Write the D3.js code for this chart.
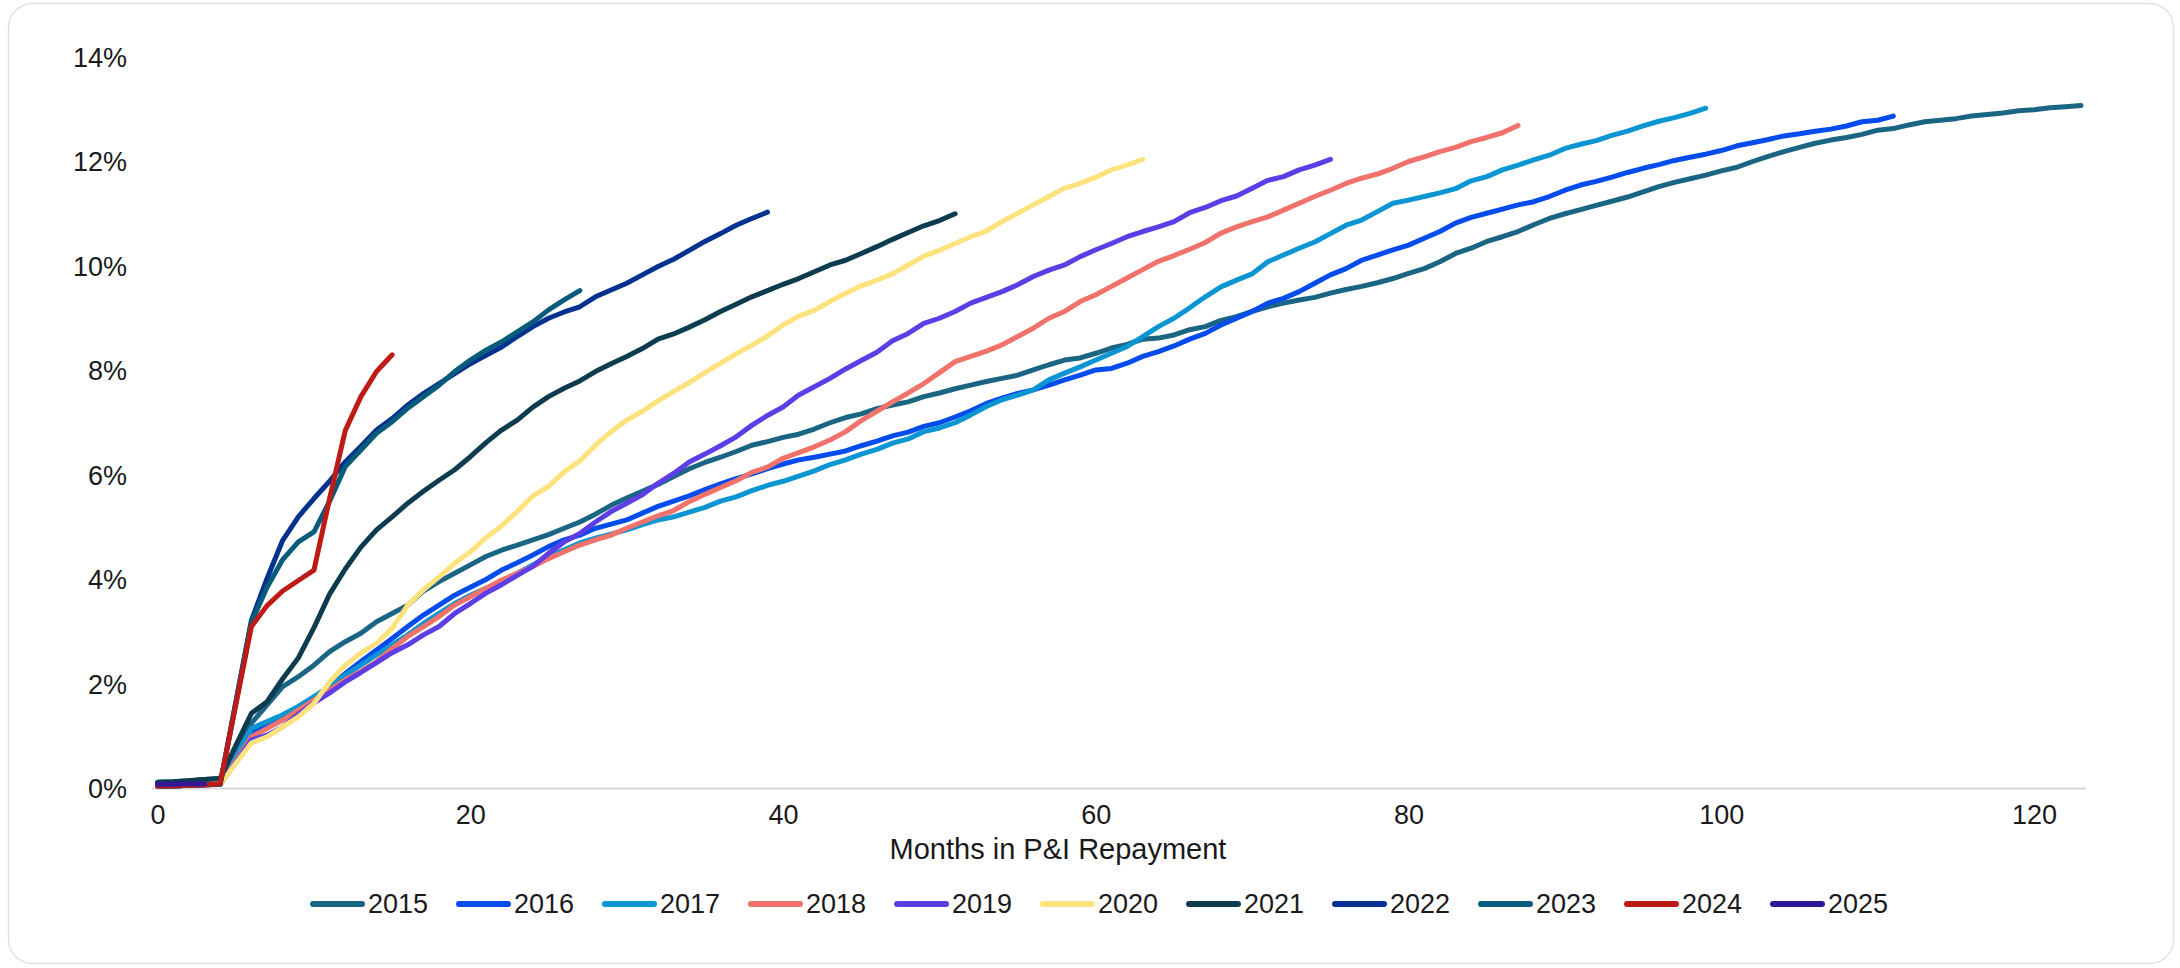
<!DOCTYPE html>
<html>
<head>
<meta charset="utf-8">
<script src="https://cdn.jsdelivr.net/npm/d3@7"></script>
<style>
  html, body { margin: 0; padding: 0; background: #ffffff; }
  svg { display: block; }
  text { font-family: "Liberation Sans", Arial, Helvetica, sans-serif; fill: #1a1a1a; }
</style>
</head>
<body>
<svg id="chart" width="2180" height="968"></svg>
<script>
// Cumulative share (%) by months in P&I repayment, one cohort per year.
const years = ["2015", "2016", "2017", "2018", "2019", "2020", "2021", "2022", "2023", "2024", "2025"];
const colors = ["#1b6584", "#024cee", "#0b95d3", "#f0726a", "#5d3de6", "#fde27d", "#0d3c4f", "#02318f", "#075b7b", "#bd1b15", "#321799"];

const xTicks = [0, 20, 40, 60, 80, 100, 120];
const yTicks = [0, 2, 4, 6, 8, 10, 12, 14];

const s2015 = [0.12, 0.13, 0.15, 0.17, 0.19, 0.72, 1.25, 1.6, 1.95, 2.14, 2.36, 2.62, 2.81, 2.97, 3.19, 3.35, 3.51, 3.78, 3.96, 4.12,
  4.28, 4.44, 4.56, 4.66, 4.76, 4.86, 4.98, 5.1, 5.25, 5.42, 5.56, 5.69, 5.82, 5.97, 6.12, 6.24, 6.34, 6.45, 6.57, 6.64,
  6.72, 6.78, 6.88, 7.0, 7.1, 7.17, 7.27, 7.34, 7.4, 7.5, 7.57, 7.65, 7.72, 7.79, 7.85, 7.91, 8.01, 8.11, 8.2, 8.24,
  8.33, 8.43, 8.5, 8.6, 8.62, 8.68, 8.78, 8.84, 8.96, 9.03, 9.13, 9.22, 9.29, 9.35, 9.4, 9.48, 9.55, 9.61, 9.68, 9.76,
  9.86, 9.95, 10.08, 10.24, 10.34, 10.47, 10.56, 10.66, 10.79, 10.91, 11.0, 11.08, 11.16, 11.24, 11.32, 11.42, 11.52, 11.6, 11.67, 11.74,
  11.82, 11.89, 12.0, 12.1, 12.19, 12.27, 12.35, 12.41, 12.46, 12.52, 12.6, 12.63, 12.7, 12.76, 12.79, 12.82, 12.87, 12.9, 12.93, 12.97,
  12.99, 13.03, 13.05, 13.07];
const s2016 = [0.05, 0.05, 0.06, 0.07, 0.08, 0.57, 1.06, 1.22, 1.34, 1.5, 1.73, 1.95, 2.2, 2.43, 2.65, 2.87, 3.1, 3.32, 3.51, 3.7,
  3.85, 4.0, 4.18, 4.32, 4.47, 4.63, 4.76, 4.85, 4.98, 5.06, 5.14, 5.27, 5.4, 5.5, 5.6, 5.72, 5.83, 5.93, 6.02, 6.12,
  6.21, 6.29, 6.34, 6.4, 6.46, 6.56, 6.65, 6.75, 6.82, 6.93, 7.0, 7.11, 7.23, 7.37, 7.47, 7.56, 7.63, 7.72, 7.82, 7.91,
  8.01, 8.04, 8.14, 8.27, 8.36, 8.47, 8.6, 8.71, 8.87, 9.0, 9.13, 9.29, 9.38, 9.51, 9.67, 9.83, 9.95, 10.11, 10.21, 10.31,
  10.4, 10.53, 10.66, 10.82, 10.93, 11.01, 11.09, 11.17, 11.23, 11.33, 11.45, 11.55, 11.62, 11.7, 11.79, 11.87, 11.94, 12.02, 12.08, 12.14,
  12.21, 12.3, 12.36, 12.42, 12.49, 12.53, 12.58, 12.62, 12.68, 12.76, 12.79, 12.87];
const s2017 = [0.05, 0.05, 0.06, 0.07, 0.08, 0.62, 1.15, 1.28, 1.41, 1.57, 1.76, 1.95, 2.17, 2.36, 2.56, 2.75, 2.94, 3.16, 3.35, 3.54,
  3.7, 3.83, 3.96, 4.12, 4.28, 4.45, 4.57, 4.7, 4.79, 4.87, 4.95, 5.05, 5.14, 5.2, 5.29, 5.38, 5.5, 5.58, 5.7, 5.8,
  5.88, 5.98, 6.08, 6.2, 6.29, 6.4, 6.49, 6.61, 6.69, 6.83, 6.9, 7.0, 7.15, 7.31, 7.44, 7.53, 7.63, 7.82, 7.95, 8.07,
  8.2, 8.33, 8.46, 8.65, 8.84, 9.0, 9.2, 9.41, 9.6, 9.73, 9.85, 10.08, 10.21, 10.34, 10.46, 10.62, 10.78, 10.88, 11.04, 11.2,
  11.26, 11.33, 11.4, 11.48, 11.63, 11.71, 11.84, 11.93, 12.03, 12.12, 12.25, 12.33, 12.4, 12.5, 12.58, 12.68, 12.77, 12.84, 12.92, 13.02];
const s2018 = [0.05, 0.05, 0.06, 0.07, 0.08, 0.53, 0.99, 1.15, 1.31, 1.5, 1.69, 1.89, 2.08, 2.24, 2.43, 2.68, 2.91, 3.1, 3.29, 3.51,
  3.67, 3.83, 3.99, 4.12, 4.25, 4.4, 4.53, 4.66, 4.76, 4.85, 4.98, 5.1, 5.22, 5.32, 5.49, 5.63, 5.76, 5.89, 6.05, 6.15,
  6.32, 6.43, 6.54, 6.67, 6.83, 7.04, 7.22, 7.4, 7.57, 7.75, 7.96, 8.17, 8.27, 8.37, 8.49, 8.65, 8.81, 9.0, 9.13, 9.32,
  9.45, 9.61, 9.77, 9.93, 10.09, 10.2, 10.32, 10.45, 10.63, 10.75, 10.85, 10.94, 11.07, 11.2, 11.33, 11.45, 11.58, 11.68, 11.76, 11.87,
  12.0, 12.09, 12.19, 12.27, 12.38, 12.46, 12.55, 12.69];
const s2019 = [0.05, 0.05, 0.06, 0.07, 0.08, 0.5, 0.93, 1.02, 1.18, 1.42, 1.64, 1.83, 2.04, 2.22, 2.41, 2.6, 2.75, 2.94, 3.1, 3.35,
  3.54, 3.74, 3.9, 4.08, 4.25, 4.5, 4.72, 4.88, 5.1, 5.3, 5.46, 5.62, 5.84, 6.03, 6.25, 6.4, 6.56, 6.73, 6.95, 7.14,
  7.3, 7.53, 7.69, 7.85, 8.03, 8.19, 8.35, 8.57, 8.71, 8.9, 9.0, 9.13, 9.29, 9.4, 9.51, 9.64, 9.8, 9.92, 10.02, 10.18,
  10.31, 10.43, 10.56, 10.66, 10.75, 10.85, 11.02, 11.12, 11.25, 11.34, 11.49, 11.64, 11.71, 11.84, 11.93, 12.04];
const s2020 = [0.05, 0.05, 0.06, 0.07, 0.08, 0.48, 0.87, 0.99, 1.18, 1.37, 1.63, 2.04, 2.36, 2.59, 2.78, 3.07, 3.51, 3.8, 4.05, 4.31,
  4.53, 4.8, 5.03, 5.3, 5.6, 5.78, 6.06, 6.27, 6.57, 6.83, 7.05, 7.22, 7.42, 7.6, 7.77, 7.96, 8.14, 8.32, 8.48, 8.66,
  8.87, 9.04, 9.15, 9.32, 9.48, 9.62, 9.73, 9.85, 10.02, 10.19, 10.3, 10.43, 10.56, 10.67, 10.85, 11.01, 11.17, 11.33, 11.49, 11.58,
  11.7, 11.84, 11.93, 12.04];
const s2021 = [0.12, 0.13, 0.15, 0.17, 0.19, 0.82, 1.44, 1.66, 2.1, 2.5, 3.08, 3.72, 4.2, 4.62, 4.95, 5.2, 5.46, 5.69, 5.9, 6.1,
  6.35, 6.62, 6.86, 7.05, 7.3, 7.5, 7.66, 7.8, 7.98, 8.13, 8.27, 8.42, 8.6, 8.7, 8.83, 8.97, 9.13, 9.27, 9.41, 9.53,
  9.65, 9.76, 9.89, 10.02, 10.11, 10.24, 10.37, 10.51, 10.64, 10.77, 10.87, 11.0];
const s2022 = [0.05, 0.05, 0.06, 0.07, 0.08, 1.65, 3.22, 4.02, 4.75, 5.2, 5.55, 5.88, 6.25, 6.55, 6.86, 7.08, 7.34, 7.56, 7.75, 7.94,
  8.13, 8.29, 8.45, 8.65, 8.84, 9.0, 9.12, 9.22, 9.41, 9.54, 9.67, 9.83, 9.99, 10.13, 10.3, 10.47, 10.62, 10.78, 10.91, 11.03];
const s2023 = [0.05, 0.05, 0.06, 0.07, 0.08, 1.63, 3.18, 3.85, 4.38, 4.72, 4.91, 5.5, 6.16, 6.48, 6.8, 7.02, 7.28, 7.5, 7.72, 7.98,
  8.2, 8.39, 8.55, 8.74, 8.93, 9.16, 9.35, 9.53];
const s2024 = [0.05, 0.05, 0.06, 0.07, 0.09, 1.6, 3.1, 3.5, 3.78, 3.98, 4.18, 5.55, 6.85, 7.5, 7.98, 8.3];
const s2025 = [0.08, 0.08, 0.09, 0.09];

const seriesValues = [s2015, s2016, s2017, s2018, s2019, s2020, s2021, s2022, s2023, s2024, s2025];
const series = years.map((name, i) => ({
  name,
  color: colors[i],
  points: seriesValues[i].map((v, m) => ({ m, v }))
}));

const svg = d3.select("#chart");

// Card frame
svg.append("rect")
  .attr("x", 8.5).attr("y", 3.5)
  .attr("width", 2165).attr("height", 960)
  .attr("rx", 24).attr("ry", 24)
  .attr("fill", "#ffffff")
  .attr("stroke", "#e2e2e2")
  .attr("stroke-width", 1.5);

const x = d3.scaleLinear().domain([0, 123]).range([157.6, 2081]);
const y = d3.scaleLinear().domain([0, 14]).range([788.5, 57]);

// Y axis labels (no axis line, no gridlines)
const yAxis = svg.append("g")
  .attr("transform", "translate(127,0)")
  .call(d3.axisLeft(y).tickValues(yTicks).tickSize(0).tickPadding(0).tickFormat(d => d + "%"));
yAxis.select(".domain").remove();
yAxis.selectAll("text")
  .attr("x", 0)
  .attr("dy", "0.35em")
  .style("font-size", "27px")
  .style("font-family", "'Liberation Sans', Arial, sans-serif")
  .attr("fill", "#1a1a1a");

// X axis baseline
svg.append("line")
  .attr("x1", x(0) - 5.5).attr("x2", x(123) + 5)
  .attr("y1", y(0)).attr("y2", y(0))
  .attr("stroke", "#d9d9d9")
  .attr("stroke-width", 2);

// X axis labels
const xAxis = svg.append("g")
  .attr("transform", `translate(0,${y(0)})`)
  .call(d3.axisBottom(x).tickValues(xTicks).tickSize(0).tickPadding(0).tickFormat(d3.format("d")));
xAxis.select(".domain").remove();
xAxis.selectAll("text")
  .attr("y", 35)
  .attr("dy", "0")
  .style("font-size", "27px")
  .style("font-family", "'Liberation Sans', Arial, sans-serif")
  .attr("fill", "#1a1a1a");

// Axis title
svg.append("text")
  .attr("x", 1058)
  .attr("y", 859)
  .attr("text-anchor", "middle")
  .style("font-size", "29px")
  .text("Months in P&I Repayment");

// Series lines
const line = d3.line()
  .x(d => x(d.m))
  .y(d => y(d.v));

svg.append("g")
  .selectAll("path")
  .data(series)
  .join("path")
  .attr("d", d => line(d.points))
  .attr("fill", "none")
  .attr("stroke", d => d.color)
  .attr("stroke-width", 5)
  .attr("stroke-linejoin", "round")
  .attr("stroke-linecap", "round");

// Legend
const legendX0 = 310, legendStep = 146, legendY = 904;
const legend = svg.append("g")
  .selectAll("g")
  .data(series)
  .join("g")
  .attr("transform", (d, i) => `translate(${legendX0 + i * legendStep},${legendY})`);

legend.append("line")
  .attr("x1", 3).attr("x2", 52)
  .attr("y1", 0).attr("y2", 0)
  .attr("stroke", d => d.color)
  .attr("stroke-width", 6)
  .attr("stroke-linecap", "round");

legend.append("text")
  .attr("x", 58)
  .attr("y", 0)
  .attr("dy", "0.35em")
  .style("font-size", "27px")
  .text(d => d.name);
</script>
</body>
</html>
